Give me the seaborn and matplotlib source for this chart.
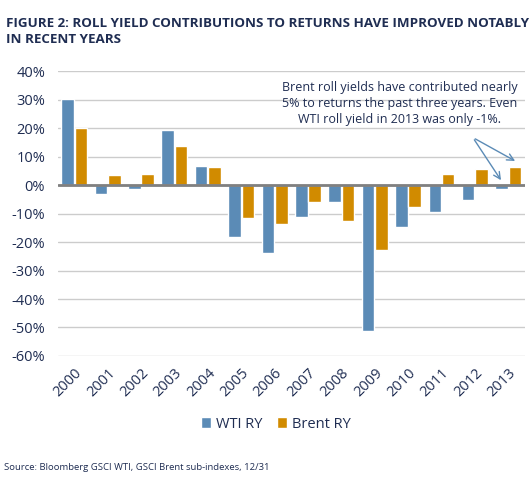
import pandas as pd
import matplotlib.pyplot as plt
import seaborn as sns
from matplotlib.ticker import FuncFormatter

# dados (% de contribuição do roll yield)
anos = ['2000', '2001', '2002', '2003', '2004', '2005', '2006',
        '2007', '2008', '2009', '2010', '2011', '2012', '2013']
wti_ry = [30.3, -3.2, -1.3, 19.2, 6.7, -18.2, -23.7,
          -11.2, -6.0, -51.2, -14.7, -9.5, -5.3, -1.4]
brent_ry = [20.1, 3.7, 4.0, 13.7, 6.2, -11.6, -13.8,
            -6.1, -12.6, -22.9, -7.7, 4.0, 5.5, 6.2]
series = ['WTI RY', 'Brent RY']

df = pd.DataFrame({
    'ano': anos * 2,
    'valor': wti_ry + brent_ry,
    'serie': [series[0]] * len(anos) + [series[1]] * len(anos),
})

sns.set_theme(style="white")
plt.rcParams['font.family'] = ['Open Sans', 'DejaVu Sans']

navy = '#1f2d52'
cores = {'WTI RY': '#5b8bb6', 'Brent RY': '#d18b00'}

fig = plt.figure(figsize=(5.31, 4.84), dpi=100)
ax = fig.add_axes([0.1085, 0.2645, 0.880, 0.5885])

sns.barplot(data=df, x='ano', y='valor', hue='serie', palette=cores,
            width=0.8, gap=0.06, saturation=1, ax=ax, legend=True)

ax.set_ylim(-60, 40)
ax.set_yticks(range(-60, 41, 10))
ax.yaxis.set_major_formatter(FuncFormatter(lambda v, p: f'{v:.0f}%'))
ax.grid(axis='y', color='#cccccc', linewidth=1)
ax.set_axisbelow(True)
ax.axhline(0, color='#808080', linewidth=2, zorder=3)
for s in ax.spines.values():
    s.set_visible(False)
ax.set_xlabel('')
ax.set_ylabel('')
ax.tick_params(axis='y', labelsize=10.5, labelcolor=navy, length=0, pad=9)
ax.tick_params(axis='x', labelsize=10.5, labelcolor=navy, length=0, pad=7)
plt.setp(ax.get_xticklabels(), rotation=45, ha='right', rotation_mode='anchor')

ax.legend(loc='center', bbox_to_anchor=(0.467, -0.239), ncol=2, frameon=False,
          fontsize=10.5, handlelength=0.7, handleheight=0.7, handletextpad=0.3,
          columnspacing=1.0, labelcolor=navy)

# anotação
ax.annotate('', xy=(12.83, 0.9), xytext=(11.94, 16.7),
            arrowprops=dict(arrowstyle='->', color='#5b8bb6', lw=1))
ax.annotate('', xy=(13.28, 8.0), xytext=(11.94, 16.7),
            arrowprops=dict(arrowstyle='->', color='#5b8bb6', lw=1))
ax.text(9.75, 28.5, 'Brent roll yields have contributed nearly\n'
        '5% to returns the past three years. Even\n'
        'WTI roll yield in 2013 was only -1%.',
        ha='center', va='center', fontsize=9.0, color=navy, linespacing=1.3)

fig.text(0.012, 0.965, 'FIGURE 2: ROLL YIELD CONTRIBUTIONS TO RETURNS HAVE IMPROVED NOTABLY\nIN RECENT YEARS',
         ha='left', va='top', fontsize=9.6, fontweight='bold', color=navy,
         linespacing=1.3)
fig.text(0.008, 0.035, 'Source: Bloomberg GSCI WTI, GSCI Brent sub-indexes, 12/31',
         ha='left', va='center', fontsize=6.8, color=navy)

fig.savefig('out.png', dpi=100)
